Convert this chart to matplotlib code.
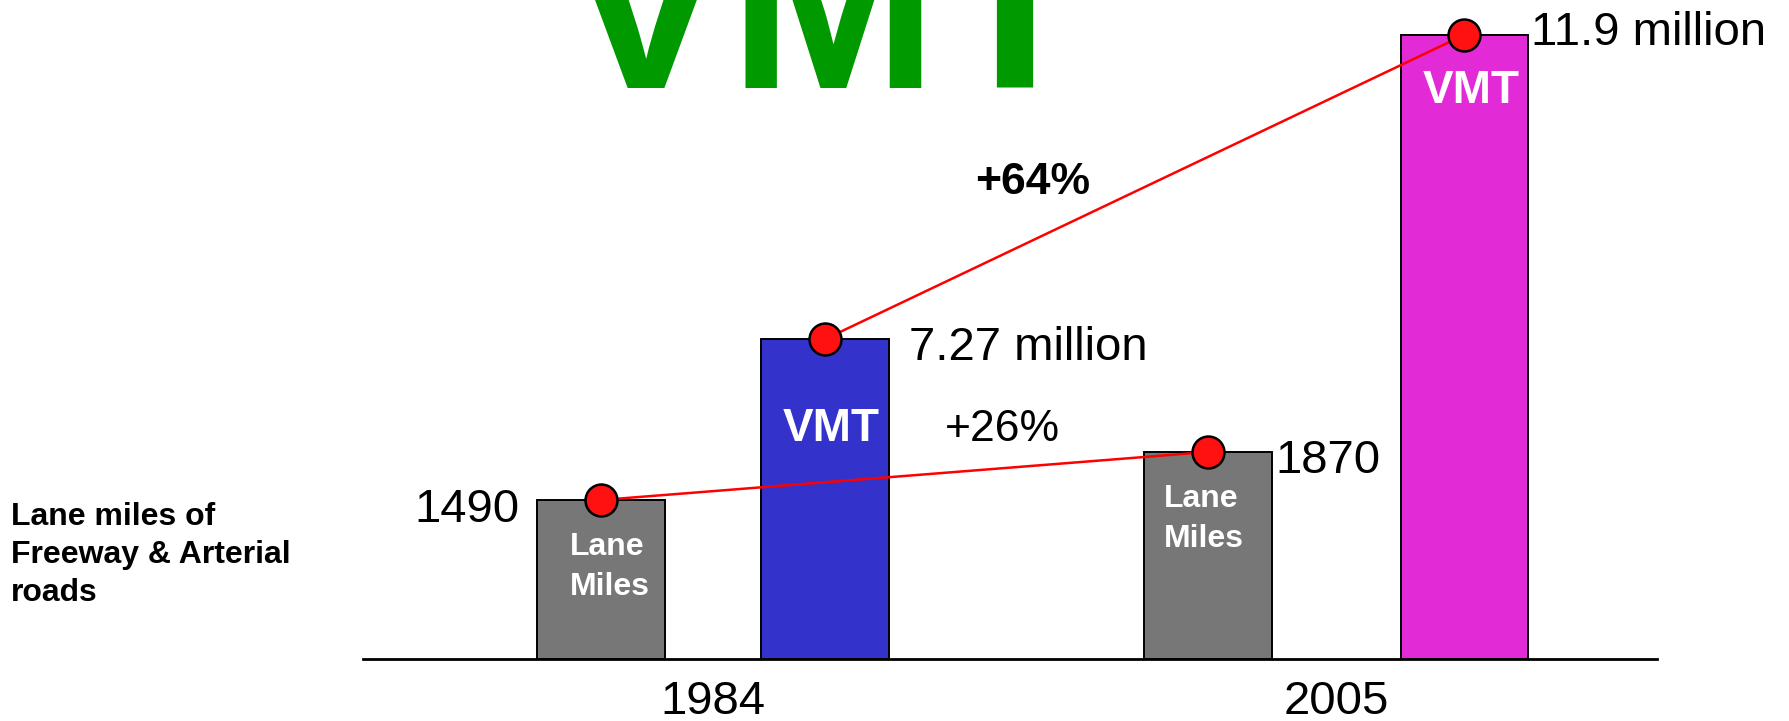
import numpy as np
import matplotlib.pyplot as plt

years = ["1984", "2005"]
lane_miles = [1490, 1870]
vmt = [7.27, 11.9]
lane_labels = ["1490", "1870"]
vmt_labels = ["7.27 million", "11.9 million"]
lane_change = "+26%"
vmt_change = "+64%"

plt.rcParams["font.family"] = ["Liberation Sans", "DejaVu Sans"]

W, H = 1789, 721
fig = plt.figure(figsize=(W / 100, H / 100), dpi=100)
ax = fig.add_axes([363 / W, 62 / H, 1294 / W, 659 / H])
ax2 = ax.twinx()
# lane miles layer on top so its red line crosses over the blue bar
ax.set_zorder(ax2.get_zorder() + 1)
ax.patch.set_visible(False)

x = np.arange(len(years))
half = np.array([0.18, 0.206])   # half distance between the two bars of a year
w = 0.205
ax.set_xlim(-0.562, 1.515)
ax.set_ylim(232, 5446)      # truncated scales, as in the original slide
ax2.set_ylim(2.4, 12.43)
lo1 = ax.get_ylim()[0]
lo2 = ax2.get_ylim()[0]

xl = x - half
xv = x + half
ax.bar(xl, np.array(lane_miles) - lo1, bottom=lo1, width=w,
       color="#777777", edgecolor="black", linewidth=1.4)
ax2.bar(xv, np.array(vmt) - lo2, bottom=lo2, width=w,
        color=["#3333cc", "#e22ad6"], edgecolor="black", linewidth=1.4)

dot = dict(color="#ff0000", lw=1.8, marker="o", ms=23, mfc="#ff1111",
           mec="black", mew=1.8, clip_on=False)
ax.plot(xl, lane_miles, **dot)
ax2.plot(xv, vmt, **dot)

# value labels
ax.annotate(lane_labels[0], (xl[0] - w / 2, lane_miles[0]), xytext=(-18, -10),
            textcoords="offset pixels", ha="right", va="center", fontsize=34)
ax.annotate(lane_labels[1], (xl[1] + w / 2, lane_miles[1]), xytext=(4, -9),
            textcoords="offset pixels", ha="left", va="center", fontsize=34)
ax2.annotate(vmt_labels[0], (xv[0] + w / 2, vmt[0]), xytext=(20, -9),
             textcoords="offset pixels", ha="left", va="center", fontsize=34)
ax2.annotate(vmt_labels[1], (xv[1] + w / 2, vmt[1]), xytext=(3, 2),
             textcoords="offset pixels", ha="left", va="center", fontsize=34)

# labels inside the bars
for i, dx, dy in zip(range(2), [33, 20], [-67, -67]):
    ax.annotate("Lane\nMiles", (xl[i] - w / 2, lane_miles[i]), xytext=(dx, dy),
                textcoords="offset pixels", ha="left", va="center",
                fontsize=23, fontweight="bold", color="white", linespacing=1.42)
for i, dx, dy in zip(range(2), [6, 7], [-90, -56]):
    ax2.annotate("VMT", (xv[i], vmt[i]), xytext=(dx, dy),
                 textcoords="offset pixels", ha="center", va="center",
                 fontsize=33, fontweight="bold", color="white")

fig.text(1033 / W, 1 - 182 / H, vmt_change, ha="center", va="center",
         fontsize=32, fontweight="bold")
fig.text(1002 / W, 1 - 430 / H, lane_change, ha="center", va="center",
         fontsize=32)

fig.text(827 / W, 1 - 88 / H, "VMT", ha="center", va="baseline",
         fontsize=181, fontweight="bold", color="#009900")
fig.text(11 / W, 1 - 555 / H, "Lane miles of\nFreeway & Arterial\nroads",
         ha="left", va="center", fontsize=23, fontweight="bold", linespacing=1.36)

ax.set_xticks(x)
ax.set_xticklabels(years, fontsize=34)
ax.tick_params(axis="x", length=0, pad=15)
ax.set_yticks([])
ax2.set_yticks([])
ax2.xaxis.set_visible(False)
for s in ["top", "left", "right"]:
    ax.spines[s].set_visible(False)
for s in ax2.spines.values():
    s.set_visible(False)
ax.spines["bottom"].set_linewidth(2)
ax.spines["bottom"].set_color("black")

plt.savefig("out.png", dpi=100)
